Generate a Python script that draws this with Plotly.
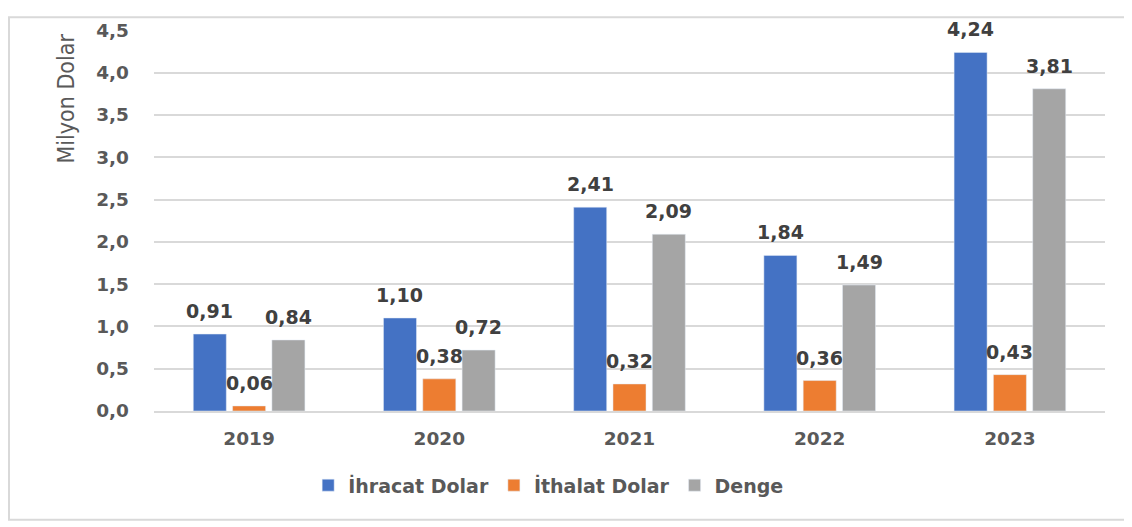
import plotly.graph_objects as go

years = ["2019", "2020", "2021", "2022", "2023"]
ihracat = [0.91, 1.10, 2.41, 1.84, 4.24]
ithalat = [0.06, 0.38, 0.32, 0.36, 0.43]
denge = [0.84, 0.72, 2.09, 1.49, 3.81]
series_names = ["İhracat Dolar", "İthalat Dolar", "Denge"]
colors = ["#4472C4", "#ED7D31", "#A5A5A5"]
y_ticks = [0, 0.5, 1.0, 1.5, 2.0, 2.5, 3.0, 3.5, 4.0, 4.5]

def fmt(v):
    return f"{v:.2f}".replace(".", ",")

# page body has an 8px margin; figure origin sits at page (8, 8)
W, H = 1124, 519
L, R, T, B = 146, 27, 14, 116
pw, ph = W - L - R, H - T - B
BARGAP, GROUPGAP = 0.38, 0.16
slot = (pw / len(years)) * (1 - BARGAP) / 3

LABEL_FONT = dict(family="DejaVu Sans", size=19, color="#404040", weight="bold")
TICK_FONT = dict(family="DejaVu Sans", size=18.5, color="#595959", weight="bold")

fig = go.Figure()
annotations = []
all_series = [ihracat, ithalat, denge]
for i, (name, vals, col) in enumerate(zip(series_names, all_series, colors)):
    fig.add_trace(go.Bar(x=years, y=vals, name=name, marker_color=col))
    for j, v in enumerate(vals):
        # category axis: annotation x is the category's serial number
        annotations.append(dict(
            x=j, y=v, xref="x", yref="y", text=fmt(v), showarrow=False,
            xanchor="center", yanchor="bottom", yshift=10,
            xshift=(i - 1) * slot, font=LABEL_FONT,
        ))

annotations.append(dict(
    text="Milyon Dolar", xref="paper", yref="paper",
    x=(58 - L) / pw, y=(H - B - 84) / ph, xanchor="center", yanchor="middle",
    textangle=-90, showarrow=False,
    font=dict(family="Liberation Sans Narrow, DejaVu Sans Condensed, Roboto", size=23, color="#595959"),
))

fig.update_layout(
    width=W, height=H,
    margin=dict(l=L, r=R, t=T, b=B),
    plot_bgcolor="white", paper_bgcolor="white",
    separators=",.",
    barmode="group", bargap=BARGAP, bargroupgap=GROUPGAP,
    font=dict(family="DejaVu Sans", color="#595959"),
    legend=dict(orientation="h", x=0.415, xanchor="center", y=-0.195, yanchor="middle",
                font=dict(family="DejaVu Sans", size=19, color="#595959", weight="bold"),
                traceorder="normal", itemwidth=30),
    yaxis=dict(range=[0, 4.505], tickvals=y_ticks, tickformat=".1f",
               showgrid=True, gridcolor="#D9D9D9", gridwidth=2,
               zeroline=False, showline=False, ticks="", ticklabelstandoff=24,
               tickfont=TICK_FONT),
    xaxis=dict(type="category", range=[-0.5, len(years) - 0.5],
               showline=True, linecolor="#D9D9D9", linewidth=2,
               ticks="", ticklabelstandoff=10, tickfont=TICK_FONT),
    annotations=annotations,
    shapes=[dict(type="rect", xref="paper", yref="paper",
                 x0=(1 - L) / pw, x1=(1120 - L) / pw,
                 y0=(H - B - 514) / ph, y1=(H - B - 1) / ph,
                 line=dict(color="#D9D9D9", width=2), layer="below")],
)

fig.write_html("out.html")
